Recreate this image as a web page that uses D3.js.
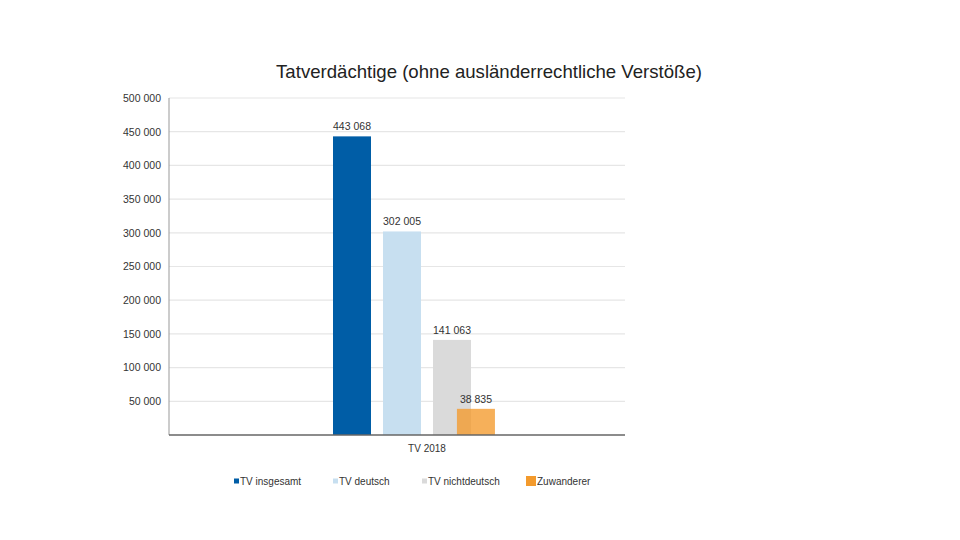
<!DOCTYPE html>
<html><head><meta charset="utf-8">
<script src="https://cdn.jsdelivr.net/npm/d3@7"></script>
<style>body{margin:0;background:#fff}svg{display:block;font-family:"Liberation Sans",Arial,sans-serif}</style>
</head><body><svg id="c" width="960" height="540"></svg>
<script>
const categories = ["TV 2018"];
const seriesNames = ["TV insgesamt", "TV deutsch", "TV nichtdeutsch", "Zuwanderer"];
const seriesValues = [443068, 302005, 141063, 38835];
const seriesColors = ["#005da6", "#c7dff0", "#dadada", "#f39a2c"];
const yTicks = [50000, 100000, 150000, 200000, 250000, 300000, 350000, 400000, 450000, 500000];
const title = "Tatverdächtige (ohne ausländerrechtliche Verstöße)";

const svg = d3.select("#c");
const L = 169, R = 625, T = 98, B = 435;
const fmt = v => d3.format(",")(v).replace(/,/g, " ");
const y = d3.scaleLinear().domain([0, 500000]).range([B, T]);
const x0 = d3.scaleBand().domain(categories).range([L, R]);
const x1 = d3.scaleBand().domain(seriesNames.slice(0, 3)).range([333, 471]).paddingInner(0.24);

svg.append("text").attr("x", 489).attr("y", 78).attr("text-anchor", "middle")
  .attr("font-size", 18.6).attr("fill", "#222").text(title);

// grid
svg.append("g").selectAll("line").data(yTicks).join("line")
  .attr("x1", L).attr("x2", R).attr("y1", d => y(d)).attr("y2", d => y(d))
  .attr("stroke", "#e6e6e6").attr("stroke-width", 1.2);

// y axis
const ya = svg.append("g").attr("transform", `translate(${L},0)`)
  .call(d3.axisLeft(y).tickValues(yTicks).tickSize(0).tickPadding(8).tickFormat(fmt));
ya.select(".domain").attr("stroke", "#999").attr("d", `M0,${T}V${B}`);
ya.selectAll("text").attr("font-size", 10.5).attr("fill", "#333").attr("font-family", "Liberation Sans, Arial, sans-serif");

// bars
const bx = (i) => i < 3 ? x1(seriesNames[i]) : x1(seriesNames[2]) + x1.bandwidth() * 0.63;
const data = seriesNames.map((n, i) => ({n, v: seriesValues[i], c: seriesColors[i], i}));
svg.append("g").selectAll("rect").data(data).join("rect")
  .attr("x", d => bx(d.i)).attr("width", x1.bandwidth())
  .attr("y", d => y(d.v)).attr("height", d => B - y(d.v))
  .attr("fill", d => d.c).attr("opacity", d => d.i === 3 ? 0.78 : 1);
svg.append("g").selectAll("text").data(data).join("text")
  .attr("x", d => bx(d.i) + x1.bandwidth() / 2).attr("y", d => y(d.v) - 6)
  .attr("text-anchor", "middle").attr("font-size", 10.5).attr("fill", "#333").text(d => fmt(d.v));

// x axis
svg.append("line").attr("x1", L).attr("x2", R).attr("y1", B).attr("y2", B)
  .attr("stroke", "#666").attr("stroke-width", 1.5);
svg.append("g").selectAll("text").data(categories).join("text")
  .attr("x", d => x0(d) + x0.bandwidth() / 2 + 30).attr("y", 452)
  .attr("text-anchor", "middle").attr("font-size", 10).attr("fill", "#333").text(d => d);

// legend
const lx = [234, 333, 422, 526];
const lg = svg.append("g").selectAll("g").data(data).join("g")
  .attr("transform", d => `translate(${lx[d.i]},481)`);
lg.append("rect").attr("x", 0).attr("y", d => d.i === 3 ? -5 : -2.5)
  .attr("width", d => d.i === 3 ? 10 : 5).attr("height", d => d.i === 3 ? 10 : 5)
  .attr("fill", d => d.c);
lg.append("text").attr("x", d => d.i === 3 ? 11 : 6).attr("y", 3.5)
  .attr("font-size", 10).attr("fill", "#333").text(d => d.n);
</script></body></html>
